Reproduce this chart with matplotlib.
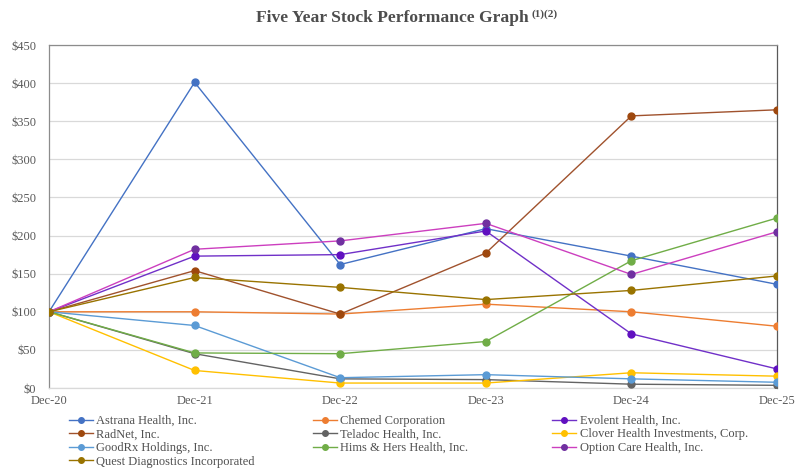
import matplotlib
matplotlib.use("Agg")
import matplotlib.pyplot as plt
from matplotlib.ticker import FuncFormatter, MultipleLocator

dates = ["Dec-20", "Dec-21", "Dec-22", "Dec-23", "Dec-24", "Dec-25"]

astrana   = [100, 401, 162, 209, 173, 136]
chemed    = [100, 100, 97, 110, 100, 81]
evolent   = [100, 173, 175, 206, 71, 25]
radnet    = [100, 154, 97, 177, 357, 365]
teladoc   = [100, 45, 12, 11, 5, 3.5]
clover    = [100, 23, 6.5, 6.5, 20, 15.5]
goodrx    = [100, 82, 13.5, 17.5, 12, 7.5]
hims      = [100, 46, 45, 61, 167, 223]
optioncare = [100, 182, 193, 216, 149, 205]
quest     = [100, 145, 132, 116, 128, 147]

series = [
    ("Astrana Health, Inc.", astrana, "#4472C4", "#4472C4"),
    ("Chemed Corporation", chemed, "#ED7D31", "#ED7D31"),
    ("Evolent Health, Inc.", evolent, "#7030C8", "#6010C0"),
    ("RadNet, Inc.", radnet, "#A0522D", "#9E480E"),
    ("Teladoc Health, Inc.", teladoc, "#636363", "#636363"),
    ("Clover Health Investments, Corp.", clover, "#FFC000", "#FFC000"),
    ("GoodRx Holdings, Inc.", goodrx, "#5B9BD5", "#5B9BD5"),
    ("Hims & Hers Health, Inc.", hims, "#70AD47", "#70AD47"),
    ("Option Care Health, Inc.", optioncare, "#CC3FBF", "#7030A0"),
    ("Quest Diagnostics Incorporated", quest, "#997300", "#997300"),
]

plt.rcParams['font.family'] = ['Liberation Serif', 'DejaVu Serif']

fig = plt.figure(figsize=(8, 4.72), dpi=100)
ax = fig.add_axes([49/800, 1-388/472, (777-49)/800, (388-45)/472])

x = list(range(len(dates)))
handles = {}
for name, vals, lc, mc in series:
    h, = ax.plot(x, vals, color=lc, lw=1.0, marker='o', markersize=5,
                 markerfacecolor=mc, markeredgecolor=mc, label=name, zorder=3)
    handles[name] = h

ax.set_xlim(0, 5)
ax.set_ylim(0, 450)
ax.yaxis.set_major_locator(MultipleLocator(50))
ax.yaxis.set_major_formatter(FuncFormatter(lambda v, p: f"${int(v)}"))
ax.set_xticks(x)
ax.set_xticklabels(dates)
ax.grid(axis='y', color='#D9D9D9', lw=0.9, zorder=0)
ax.set_axisbelow(True)
ax.tick_params(axis='both', length=0, labelsize=9, labelcolor='#595959')
ax.tick_params(axis='y', pad=9)
ax.tick_params(axis='x', pad=5)
for s in ['left', 'top']:
    ax.spines[s].set_color('#8C8C8C')
    ax.spines[s].set_linewidth(0.9)
ax.spines['right'].set_color('#595959')
ax.spines['right'].set_linewidth(0.9)
ax.spines['bottom'].set_color('#D9D9D9')
ax.spines['bottom'].set_linewidth(0.9)

fig.text(392/800, 1-18/472, "Five Year Stock Performance Graph", ha='center', va='center',
         fontsize=12.6, fontweight='bold', color='#4D4D4D')
fig.text(531/800, 1-14/472, "(1)(2)", ha='left', va='center',
         fontsize=8, fontweight='bold', color='#4D4D4D')

cols = [
    (["Astrana Health, Inc.", "RadNet, Inc.", "GoodRx Holdings, Inc.", "Quest Diagnostics Incorporated"], 69),
    (["Chemed Corporation", "Teladoc Health, Inc.", "Hims & Hers Health, Inc."], 313),
    (["Evolent Health, Inc.", "Clover Health Investments, Corp.", "Option Care Health, Inc."], 552),
]
for names, x0 in cols:
    leg = fig.legend([handles[n] for n in names], names, loc='upper left',
                     bbox_to_anchor=(x0/800, 1-415/472), frameon=False, fontsize=9,
                     handlelength=1.9, handletextpad=0.3, labelspacing=0.12,
                     borderpad=0, borderaxespad=0, markerscale=0.8)
    for t in leg.get_texts():
        t.set_color('#505050')

fig.savefig("out.png", dpi=100)
